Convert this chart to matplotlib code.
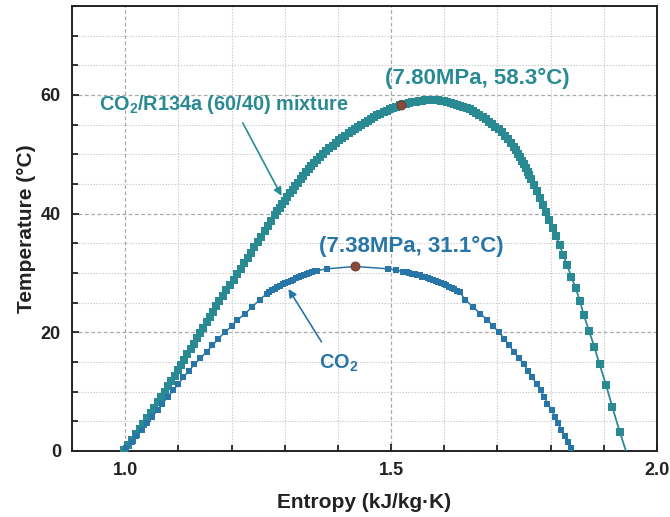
import numpy as np
import matplotlib
matplotlib.use("Agg")
import matplotlib.pyplot as plt
from matplotlib.ticker import MultipleLocator

plt.rcParams['font.family'] = ['Liberation Sans', 'DejaVu Sans']
plt.rcParams['font.weight'] = 'bold'
plt.rcParams['mathtext.fontset'] = 'custom'
plt.rcParams['mathtext.rm'] = 'Liberation Sans:bold'
plt.rcParams['mathtext.bf'] = 'Liberation Sans:bold'
plt.rcParams['mathtext.it'] = 'Liberation Sans:bold:italic'

# CO2/R134a (60/40) mixture saturation dome: entropy (kJ/kg.K), temperature (C)
mix_s = [0.998, 1.005, 1.012, 1.020, 1.027, 1.034, 1.041, 1.048, 1.055, 1.062,
         1.068, 1.075, 1.081, 1.087, 1.093, 1.099, 1.105, 1.111, 1.117, 1.123,
         1.129, 1.135, 1.141, 1.147, 1.153, 1.159, 1.165, 1.171, 1.177, 1.184,
         1.190, 1.197, 1.204, 1.211, 1.217, 1.223, 1.230, 1.236, 1.242, 1.249,
         1.255, 1.262, 1.268, 1.275, 1.281, 1.286, 1.291, 1.295, 1.300, 1.305,
         1.310, 1.315, 1.320, 1.325, 1.330, 1.335, 1.340, 1.345, 1.350, 1.355,
         1.360, 1.366, 1.372, 1.378, 1.384, 1.390, 1.396, 1.402, 1.408, 1.414,
         1.420, 1.426, 1.432, 1.438, 1.444, 1.450, 1.456, 1.462, 1.468, 1.474,
         1.480, 1.486, 1.492, 1.498, 1.504, 1.510, 1.516, 1.522, 1.528, 1.534,
         1.540, 1.546, 1.552, 1.558, 1.564, 1.570, 1.576, 1.582, 1.588, 1.594,
         1.600, 1.606, 1.612, 1.618, 1.624, 1.630, 1.636, 1.642, 1.648, 1.654,
         1.660, 1.666, 1.672, 1.678, 1.684, 1.690, 1.696, 1.702, 1.708, 1.714,
         1.720, 1.726, 1.731, 1.735, 1.739, 1.743, 1.747, 1.750, 1.753, 1.757,
         1.760, 1.764, 1.769, 1.775, 1.780, 1.786, 1.791, 1.797, 1.804, 1.810,
         1.817, 1.824, 1.831, 1.839, 1.847, 1.855, 1.862, 1.872, 1.882, 1.892,
         1.904, 1.916, 1.930, 1.947]
mix_t = [0.2, 1.0, 1.85, 2.8, 3.7, 4.6, 5.5, 6.4, 7.3, 8.2,
         9.1, 10.0, 10.9, 11.8, 12.7, 13.6, 14.5, 15.4, 16.3, 17.2,
         18.1, 19.0, 19.9, 20.8, 21.7, 22.6, 23.5, 24.4, 25.3, 26.2,
         27.1, 28.0, 28.9, 29.8, 30.7, 31.6, 32.5, 33.4, 34.3, 35.2,
         36.1, 37.0, 37.9, 38.8, 39.7, 40.4, 41.0, 41.6, 42.2, 42.8,
         43.4, 44.0, 44.6, 45.2, 45.8, 46.4, 47.0, 47.5, 48.0, 48.5,
         49.0, 49.5, 50.0, 50.5, 51.0, 51.45, 51.9, 52.35, 52.75, 53.15,
         53.55, 53.95, 54.3, 54.65, 55.0, 55.35, 55.65, 55.95, 56.25, 56.55,
         56.85, 57.1, 57.35, 57.6, 57.8, 58.0, 58.25, 58.4, 58.55, 58.7,
         58.8, 58.9, 58.97, 59.05, 59.1, 59.13, 59.15, 59.13, 59.1, 59.0,
         58.92, 58.82, 58.7, 58.55, 58.38, 58.2, 58.0, 57.8, 57.57, 57.3,
         57.0, 56.65, 56.28, 55.9, 55.5, 55.08, 54.65, 54.2, 53.7, 53.15,
         52.55, 51.9, 51.3, 50.7, 50.1, 49.5, 48.9, 48.3, 47.7, 47.1,
         46.5, 45.9, 44.9, 43.8, 42.6, 41.5, 40.3, 39.0, 37.6, 36.2,
         34.65, 33.0, 31.3, 29.4, 27.45, 25.3, 23.0, 20.3, 17.6, 14.6,
         11.2, 7.4, 3.2, -1.5]

# pure CO2 saturation dome
co2_s = [1.002, 1.012, 1.021, 1.031, 1.041, 1.051, 1.061, 1.070, 1.080, 1.090,
         1.100, 1.109, 1.120, 1.130, 1.141, 1.153, 1.164, 1.175, 1.187, 1.200,
         1.211, 1.225, 1.239, 1.253,
         1.266, 1.271, 1.276, 1.281, 1.286, 1.291, 1.296, 1.301, 1.306, 1.311,
         1.316, 1.321, 1.326, 1.331, 1.336, 1.341, 1.346, 1.351, 1.356, 1.361,
         1.379, 1.432, 1.495, 1.510, 1.522,
         1.529, 1.534, 1.539, 1.544, 1.549, 1.554, 1.559, 1.564, 1.569, 1.574,
         1.579, 1.584, 1.589, 1.594, 1.599, 1.604, 1.609, 1.614, 1.619, 1.624,
         1.629,
         1.639, 1.654, 1.668, 1.681, 1.692, 1.703, 1.713, 1.722, 1.731, 1.741,
         1.750, 1.757, 1.765, 1.774, 1.781, 1.788, 1.794, 1.802, 1.808, 1.814,
         1.820, 1.827, 1.833, 1.839]
co2_t = [0.5, 1.5, 2.5, 3.6, 4.7, 5.8, 6.9, 8.0, 9.1, 10.2,
         11.3, 12.4, 13.5, 14.6, 15.6, 16.7, 17.8, 18.9, 20.0, 21.0,
         22.1, 23.1, 24.3, 25.5,
         26.5, 26.8, 27.1, 27.3, 27.6, 27.8, 28.1, 28.3, 28.5, 28.7,
         28.9, 29.1, 29.3, 29.5, 29.7, 29.8, 30.0, 30.1, 30.3, 30.4,
         30.7, 31.1, 30.7, 30.45, 30.25,
         30.1, 30.0, 29.9, 29.8, 29.7, 29.6, 29.4, 29.3, 29.2, 29.0,
         28.9, 28.7, 28.5, 28.3, 28.1, 27.9, 27.7, 27.5, 27.3, 27.0,
         26.8,
         25.5, 24.3, 23.1, 22.1, 21.0, 20.0, 18.9, 17.8, 16.7, 15.6,
         14.6, 13.5, 12.4, 11.3, 10.2, 9.1, 8.0, 6.9, 5.8, 4.7,
         3.6, 2.5, 1.5, 0.5]

# critical points
crit_s = [1.518, 1.432]
crit_t = [58.3, 31.1]

teal = '#2a8a94'
blue = '#2876a8'
dark = '#222222'

fig = plt.figure(figsize=(6.70, 5.17), dpi=100)
ax = fig.add_axes([0.1075, 0.1277, 0.8731, 0.8607])

ax.plot(mix_s, mix_t, '-s', color=teal, lw=1.3, ms=5.2, mew=0, zorder=3)
ax.plot(co2_s, co2_t, '-s', color=blue, lw=1.1, ms=4.9, mew=0, zorder=3)
ax.plot(crit_s, crit_t, 'o', ls='none', color='#8c4a3a', mec='#6a3428',
        mew=0.6, ms=6.5, zorder=5)

ax.set_xlim(0.9, 2.0)
ax.set_ylim(0, 75)
ax.xaxis.set_major_locator(MultipleLocator(0.5))
ax.xaxis.set_minor_locator(MultipleLocator(0.1))
ax.yaxis.set_major_locator(MultipleLocator(20))
ax.yaxis.set_minor_locator(MultipleLocator(5))

ax.grid(which='major', color='#aaaaaa', ls=(0, (3, 2)), lw=0.9)
ax.grid(which='minor', color='#c8c8c8', ls=(0, (1.2, 1.5)), lw=0.8)
ax.set_axisbelow(True)

ax.tick_params(which='both', direction='in', top=False, right=False,
               colors=dark, width=1.3, labelsize=13, pad=8)
ax.tick_params(which='major', length=5)
ax.tick_params(which='minor', length=4)
for lab in ax.get_xticklabels() + ax.get_yticklabels():
    lab.set_fontweight('bold')
for sp in ax.spines.values():
    sp.set_linewidth(1.4)
    sp.set_color(dark)

ax.set_xlabel('Entropy (kJ/kg·K)', fontsize=15, fontweight='bold', color=dark)
ax.set_ylabel('Temperature (°C)', fontsize=15, fontweight='bold', color=dark)
ax.xaxis.set_label_coords(0.5, -0.095)
ax.yaxis.set_label_coords(-0.062, 0.5)

ax.text(1.185, 58.4, 'CO$_\\mathregular{2}$/R134a (60/40) mixture', color=teal,
        fontsize=14.3, fontweight='bold', ha='center', va='center')
ax.text(1.663, 62.8, '(7.80MPa, 58.3°C)', color=teal,
        fontsize=16, fontweight='bold', ha='center', va='center')
ax.text(1.538, 34.4, '(7.38MPa, 31.1°C)', color=blue,
        fontsize=16, fontweight='bold', ha='center', va='center')
ax.text(1.402, 14.7, 'CO$_\\mathregular{2}$', color=blue,
        fontsize=14.3, fontweight='bold', ha='center', va='center')

ax.annotate('', xy=(1.294, 43.0), xytext=(1.221, 55.3),
            arrowprops=dict(arrowstyle='-|>', color=teal, lw=1.2,
                            mutation_scale=12, shrinkA=0, shrinkB=0))
ax.annotate('', xy=(1.307, 27.3), xytext=(1.369, 18.4),
            arrowprops=dict(arrowstyle='-|>', color=blue, lw=1.2,
                            mutation_scale=12, shrinkA=0, shrinkB=0))

fig.savefig('out.png', dpi=100)
